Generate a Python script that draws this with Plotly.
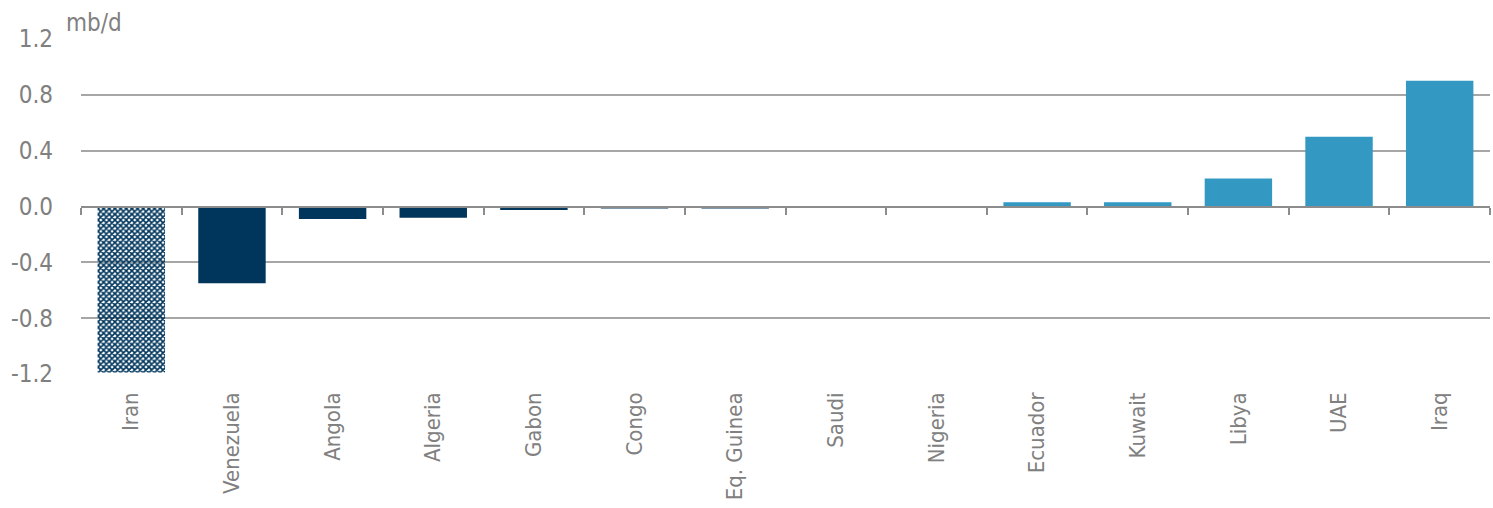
import plotly.graph_objects as go

categories = ["Iran", "Venezuela", "Angola", "Algeria", "Gabon", "Congo", "Eq. Guinea",
              "Saudi", "Nigeria", "Ecuador", "Kuwait", "Libya", "UAE", "Iraq"]
values = [-1.19, -0.55, -0.09, -0.08, -0.025, -0.015, -0.015, 0.0, 0.0, 0.03, 0.03, 0.2, 0.5, 0.9]
y_ticks = [-1.2, -0.8, -0.4, 0.0, 0.4, 0.8, 1.2]
y_tick_text = ["-1.2", "-0.8", "-0.4", "0.0", "0.4", "0.8", "1.2"]
unit_label = "mb/d"

NAVY = "#00355c"
LIGHT = "#3399c3"
GREY_TXT = "#808080"
FONT = "Liberation Sans Narrow, Arial Narrow, DejaVu Sans Condensed, Liberation Sans, sans-serif"
FS = 24
FSX = 22

colors = [NAVY if v < 0 else LIGHT for v in values]
shapes_pat = ["x"] + [""] * (len(values) - 1)

fig = go.Figure()
fig.add_trace(go.Bar(
    x=categories, y=values,
    marker=dict(
        color=colors,
        line=dict(width=0),
        pattern=dict(shape=shapes_pat, fgcolor=NAVY, bgcolor="white",
                     size=4, solidity=0.65, fillmode="replace"),
    ),
    showlegend=False,
))
# invisible trace to activate the zero-line axis with tick marks
fig.add_trace(go.Scatter(x=[0], y=[0], xaxis="x2", mode="markers",
                         marker=dict(opacity=0), showlegend=False, hoverinfo="skip"))

n = len(categories)
fig.update_layout(
    width=1493, height=508,
    margin=dict(l=81, r=3, t=39, b=134),
    paper_bgcolor="white", plot_bgcolor="white",
    bargap=0.33,
    font=dict(family=FONT, color=GREY_TXT, size=FS),
    xaxis=dict(
        type="category", categoryorder="array", categoryarray=categories,
        range=[-0.5, n - 0.5], automargin=False,
        tickangle=-90, showgrid=False, showline=False, zeroline=False,
        ticks="", ticklabelstandoff=13,
        tickfont=dict(family=FONT, color=GREY_TXT, size=FSX),
    ),
    xaxis2=dict(
        overlaying="x", anchor="free", position=0.5, automargin=False,
        range=[-0.5, n - 0.5], showgrid=False, zeroline=False,
        showline=True, linecolor="#8c8c8c", linewidth=2,
        ticks="outside", ticklen=7, tickwidth=2, tickcolor="#8c8c8c",
        tickvals=[i - 0.5 for i in range(n + 1)], showticklabels=False,
    ),
    yaxis=dict(
        range=[-1.2, 1.2], tickvals=y_ticks, ticktext=y_tick_text,
        showgrid=True, gridcolor="#a6a6a6", gridwidth=2, automargin=False,
        zeroline=False, showline=False, ticks="",
        ticklabelstandoff=27,
        tickfont=dict(family=FONT, color=GREY_TXT, size=FS),
    ),
    annotations=[dict(
        text=unit_label, xref="paper", yref="paper", x=0, y=1,
        xanchor="left", yanchor="bottom", xshift=-17, yshift=0, showarrow=False,
        font=dict(family=FONT, color=GREY_TXT, size=FS),
    )],
)

fig.write_html("out.html")
